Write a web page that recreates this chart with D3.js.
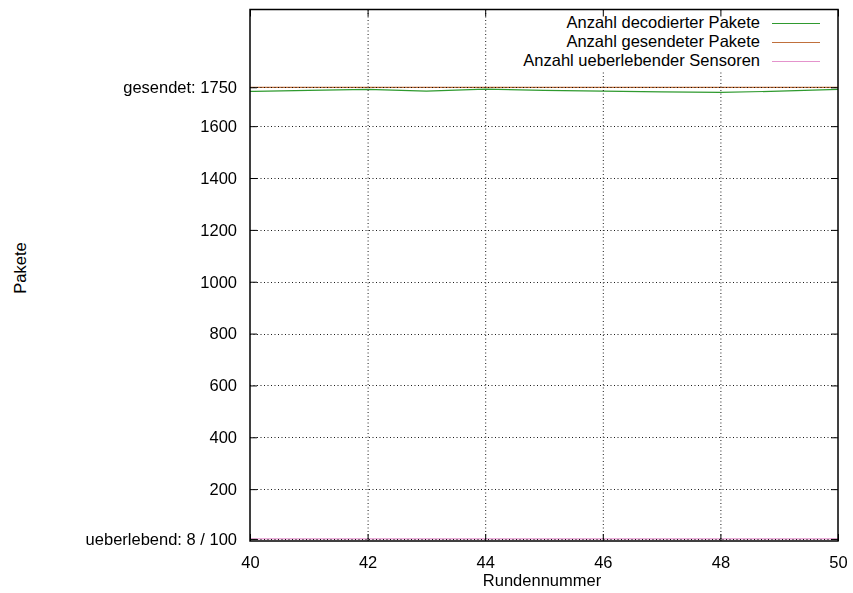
<!DOCTYPE html>
<html>
<head>
<meta charset="utf-8">
<script src="https://cdn.jsdelivr.net/npm/d3@7"></script>
<style>
  html, body { margin: 0; padding: 0; background: #fff; }
  svg { display: block; font-family: "Liberation Sans", Arial, Helvetica, sans-serif; }
</style>
</head>
<body>
<svg id="chart" width="853" height="593"></svg>
<script>
// Rounds on the x axis
const rounds = [40, 41, 42, 43, 44, 45, 46, 47, 48, 49, 50];
// Packets decoded per round
const decoded = [1734, 1738, 1742, 1735, 1743, 1738, 1735, 1732, 1730, 1735, 1742];
// Packets sent per round
const sent = [1750, 1750, 1750, 1750, 1750, 1750, 1750, 1750, 1750, 1750, 1750];
// Surviving sensors per round
const surviving = [8, 8, 8, 8, 8, 8, 8, 8, 8, 8, 8];

const xTicks = [40, 42, 44, 46, 48, 50];
const yTicks = [8, 200, 400, 600, 800, 1000, 1200, 1400, 1600, 1750];
const yTickLabels = {8: "ueberlebend: 8 / 100", 1750: "gesendet: 1750"};

const seriesNames = ["Anzahl decodierter Pakete", "Anzahl gesendeter Pakete", "Anzahl ueberlebender Sensoren"];
const seriesColors = ["#2f9a2f", "#c0703c", "#e493cc"];

const FS = 16.5;
const svg = d3.select("#chart");
const plotL = 250, plotR = 838, plotT = 9.5, plotB = 541;

const x = d3.scaleLinear().domain([40, 50]).range([plotL, plotR]);
const y = d3.scaleLinear().domain([0, 2050]).range([plotB, plotT]);

// Data lines
const line = d3.line().x((d, i) => x(rounds[i])).y(d => y(d));
[decoded, sent, surviving].forEach((s, k) => {
  svg.append("path")
    .datum(s)
    .attr("d", line)
    .attr("fill", "none")
    .attr("stroke", seriesColors[k])
    .attr("stroke-width", 1.2);
});

// Dotted grid
const grid = svg.append("g").attr("stroke", "#000").attr("stroke-dasharray", "1,2.5").attr("stroke-width", 1).attr("opacity", 0.9);
xTicks.filter(v => v > 40 && v < 50).forEach(v => {
  grid.append("line").attr("x1", x(v)).attr("x2", x(v)).attr("y1", plotT).attr("y2", plotB)
    .attr("transform", "translate(0.5,0)");
});
yTicks.forEach(v => {
  grid.append("line").attr("x1", plotL).attr("x2", plotR).attr("y1", Math.round(y(v)) + 0.5).attr("y2", Math.round(y(v)) + 0.5);
});

// Legend (opaque box over the grid)
const lg = svg.append("g");
lg.append("rect").attr("x", 512).attr("y", 12).attr("width", 320).attr("height", 58).attr("fill", "#fff");
seriesNames.forEach((name, i) => {
  const ly = 22.5 + i * 19;
  lg.append("text").attr("x", 760).attr("y", ly).attr("dy", "0.35em")
    .attr("text-anchor", "end").attr("font-size", FS).attr("fill", "#000").text(name);
  lg.append("line").attr("x1", 772).attr("x2", 820).attr("y1", Math.round(ly) + 0.5).attr("y2", Math.round(ly) + 0.5)
    .attr("stroke", seriesColors[i]).attr("stroke-width", 1.2);
});

// Axes with inward ticks
const yAxis = d3.axisLeft(y).tickValues(yTicks)
  .tickFormat(v => yTickLabels[v] || String(v)).tickSize(-7).tickPadding(13);
const gy = svg.append("g").attr("transform", `translate(${plotL},0)`).call(yAxis);
const gyR = svg.append("g").attr("transform", `translate(${plotR},0)`)
  .call(d3.axisRight(y).tickValues(yTicks).tickSize(-7).tickFormat(""));

const xAxis = d3.axisBottom(x).tickValues(xTicks).tickFormat(d3.format("d")).tickSize(-7).tickPadding(15);
const gx = svg.append("g").attr("transform", `translate(0,${plotB})`).call(xAxis);
const gxT = svg.append("g").attr("transform", `translate(0,${plotT})`)
  .call(d3.axisTop(x).tickValues(xTicks).tickSize(-7).tickFormat(""));

[gy, gyR, gx, gxT].forEach(g => {
  g.select(".domain").remove();
  g.selectAll("line").attr("stroke", "#000");
  g.selectAll("text").attr("font-size", FS).attr("fill", "#000").attr("font-family", "Liberation Sans, Arial, sans-serif");
});

// Plot border
svg.append("rect").attr("x", plotL).attr("y", plotT).attr("width", plotR - plotL).attr("height", plotB - plotT)
  .attr("fill", "none").attr("stroke", "#000").attr("stroke-width", 1.5);

// Axis titles
svg.append("text").attr("x", 542).attr("y", 580).attr("dy", "0.35em").attr("text-anchor", "middle")
  .attr("font-size", FS).text("Rundennummer");
svg.append("text").attr("transform", "translate(20,268) rotate(-90)").attr("dy", "0.35em")
  .attr("text-anchor", "middle").attr("font-size", FS).text("Pakete");
</script>
</body>
</html>
